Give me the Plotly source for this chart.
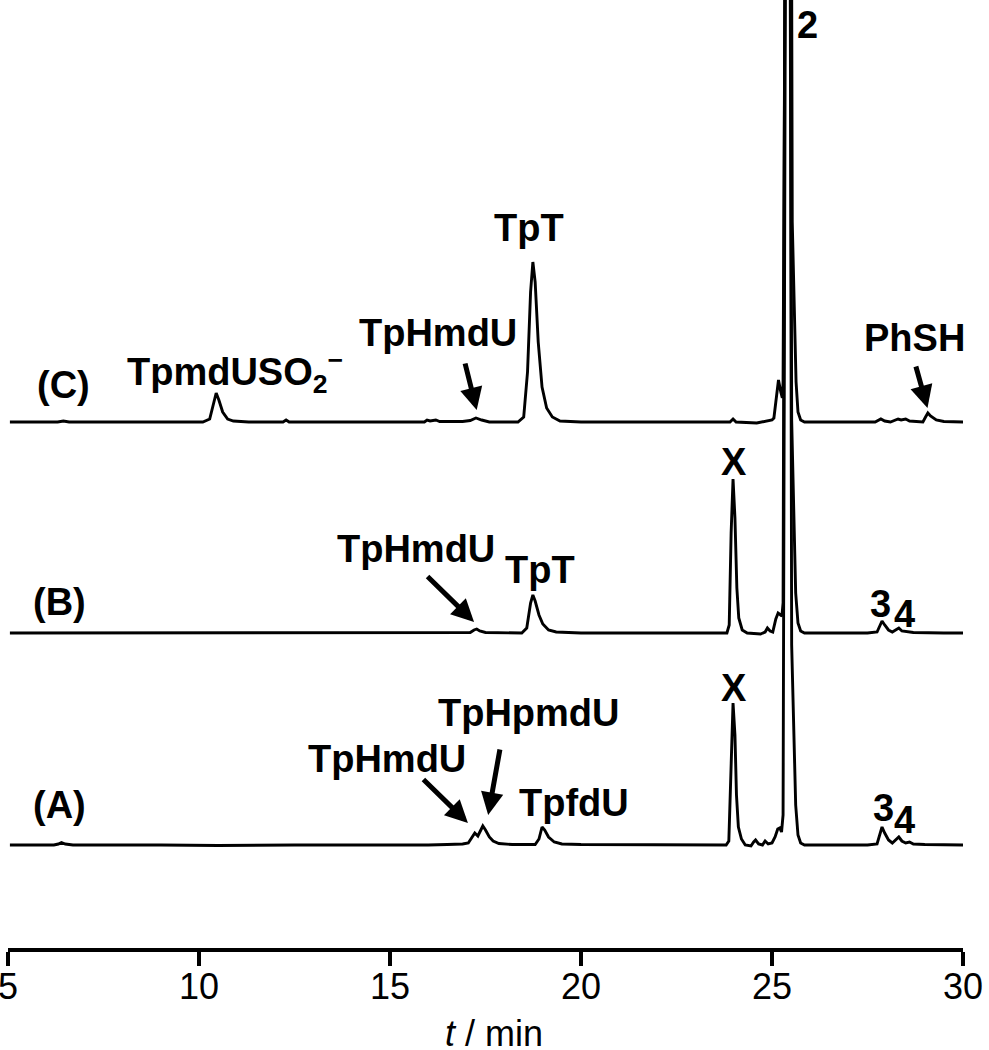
import plotly.graph_objects as go

# Retention time (min) and detector signal (a.u.)
t_A = [5.05, 6.2, 6.32, 6.4, 6.5, 6.7, 9.0, 10.5, 12.5, 14.8, 15.2, 16.0, 16.5, 16.9, 17.05, 17.15, 17.22,
       17.30, 17.38, 17.43, 17.5, 17.6, 17.7, 17.85, 18.2, 18.8, 18.9, 18.98, 19.05, 19.15, 19.3, 19.5, 20.0,
       22.0, 23.8, 23.87, 23.93, 23.98, 24.03, 24.07, 24.12, 24.2, 24.3, 24.45, 24.52, 24.57, 24.65, 24.75,
       24.82, 24.9, 25.0, 25.08, 25.15, 25.2, 25.25, 25.29, 25.36, 25.42, 25.47, 25.515, 25.62, 25.68, 25.75,
       25.85, 26.5, 27.5, 27.75, 27.82, 27.88, 27.95, 28.05, 28.15, 28.25, 28.32, 28.4, 28.5, 28.6, 28.7, 29.0,
       29.5, 30.05]
s_A = [0, 0, 1, 2.5, 1, 0, 0, -0.5, 0, 0, -0.5, 0, 0.5, 1, 2, 8, 12,
       9, 15, 19, 15, 8, 4, 1.5, 0.5, 0.5, 6, 18, 15, 8, 3, 1, 0.5,
       0, 0, 4, 80, 142, 110, 50, 18, 6, 0, -1, 3, 5, 1, 0,
       4, 1, 2, 8, 16, 17, 13, 30, 1000, 1100, 1000, 200, 40, 10, 2,
       0, 0, 0, 1, 10, 18, 12, 5, 2, 5, 8, 4, 2, 3, 1, 0.5,
       0, 0]

t_B = [5.05, 8.0, 10.0, 12.8, 15.0, 16.5, 17.1, 17.2, 17.27, 17.35, 17.5, 18.45, 18.58, 18.68, 18.74, 18.80,
       18.9, 19.0, 19.15, 19.35, 20.0, 23.5, 23.82, 23.88, 23.93, 23.98, 24.03, 24.08, 24.13, 24.22, 24.35,
       24.7, 24.82, 24.88, 24.95, 25.02, 25.1, 25.16, 25.22, 25.26, 25.29, 25.36, 25.42, 25.47, 25.515, 25.62,
       25.68, 25.75, 25.85, 27.5, 27.75, 27.82, 27.88, 27.95, 28.05, 28.15, 28.25, 28.32, 28.4, 28.55, 28.7,
       29.5, 30.05]
s_B = [0, 0, 0.5, 0, 0.5, 0, 0.5, 3, 4, 2, 0.5, 0, 5, 30, 38, 32,
       18, 9, 3, 1, 0, 0, 0, 8, 100, 154, 115, 45, 15, 3, 0,
       -1, 1, 5, 2, 1, 14, 20, 18, 17, 30, 1000, 1100, 1000, 213, 40,
       10, 2, 0, 0, 1, 8, 12, 8, 3, 1, 3, 5, 2, 1, 0.5,
       0, 0]

t_C = [5.05, 6.3, 6.45, 6.6, 9.3, 10.1, 10.28, 10.38, 10.45, 10.52, 10.62, 10.75, 10.9, 11.3, 12.2, 12.28,
       12.36, 15.9, 15.97, 16.05, 16.2, 16.3, 16.9, 17.1, 17.25, 17.4, 17.6, 18.35, 18.5, 18.6, 18.68, 18.74,
       18.80, 18.88, 18.98, 19.1, 19.25, 19.45, 20.0, 23.9, 23.98, 24.06, 24.6, 25.0, 25.05, 25.1, 25.17,
       25.23, 25.27, 25.29, 25.36, 25.42, 25.48, 25.53, 25.63, 25.68, 25.75, 25.85, 27.7, 27.85, 27.95, 28.1,
       28.3, 28.38, 28.5, 28.6, 28.95, 29.02, 29.08, 29.15, 29.3, 29.5, 30.05]
s_C = [0, 0, 1, 0, 0, 0, 3, 18, 29, 22, 10, 3, 1, 0, 0, 2,
       0, 0, 2, 1, 2, 0.5, 0.5, 1.5, 4, 2, 0, 0, 5, 50, 130, 160,
       140, 80, 35, 14, 5, 1, 0, 0, 3, 0, -1, 2, 4, 20, 42,
       30, 24, 40, 1000, 1100, 1000, 200, 40, 10, 2, 0, 0, 3, 1, 0,
       3, 2, 3, 1, 0, 5, 9, 6, 2, 0.5, 0]

trace_names = ["(A)", "(B)", "(C)"]
offsets = [103, 315, 526]

x_ticks = [5, 10, 15, 20, 25, 30]
x_title = "<i>t</i> / min"

FONT = "Liberation Sans, Arial, sans-serif"

fig = go.Figure()
for tt, ss, off, nm in zip([t_A, t_B, t_C], [s_A, s_B, s_C], offsets, trace_names):
    fig.add_trace(go.Scatter(x=tt, y=[v + off for v in ss], mode="lines",
                             line=dict(color="black", width=2.9), name=nm,
                             showlegend=False, hoverinfo="skip"))

# text labels: (text, t, y)
labels = [
    ("(C)", 6.44, 563), ("TpmdUSO<sub>2</sub><sup>−</sup>", 10.94, 576), ("TpHmdU", 16.26, 615),
    ("TpT", 18.64, 720), ("2", 25.94, 923), ("PhSH", 28.74, 610),
    ("(B)", 6.34, 346), ("TpHmdU", 15.68, 399), ("TpT", 18.93, 378), ("X", 24.0, 486),
    ("3", 27.85, 344), ("4", 28.48, 334),
    ("(A)", 6.34, 143), ("TpHmdU", 14.92, 189), ("TpHpmdU", 18.64, 235), ("TpfdU", 19.82, 145),
    ("X", 24.0, 260), ("3", 27.91, 140), ("4", 28.48, 128),
]
for txt, x, y in labels:
    fig.add_annotation(x=x, y=y, xref="x", yref="y", text="<b>" + txt + "</b>", showarrow=False,
                       font=dict(family=FONT, size=38, color="black"))

# arrows: head (t, y), tail offset in pixels
arrows = [
    (17.27, 538, -12, -48),   # C TpHmdU
    (29.07, 540, -12, -43),   # C PhSH
    (17.2, 326, -48, -47),    # B TpHmdU
    (17.04, 125, -46, -45),   # A TpHmdU
    (17.57, 133, 12, -67),    # A TpHpmdU
]
for hx, hy, ax, ay in arrows:
    fig.add_annotation(x=hx, y=hy, xref="x", yref="y", text="", showarrow=True,
                       ax=ax, ay=ay, arrowhead=2, arrowsize=0.9, arrowwidth=5,
                       arrowcolor="black")

# x-axis title placed below the tick labels
fig.add_annotation(x=17.72, y=-0.0905, xref="x", yref="paper", text=x_title, showarrow=False,
                   yanchor="middle", font=dict(family=FONT, size=36, color="black"))

fig.update_layout(
    width=989, height=1050,
    margin=dict(l=8, r=26, t=0, b=102, autoexpand=False),
    plot_bgcolor="white", paper_bgcolor="white",
    font=dict(family=FONT, color="black"),
    xaxis=dict(range=[5, 30], tickvals=x_ticks, ticks="outside", ticklen=14, tickwidth=4,
               tickcolor="black", showline=True, linecolor="black", linewidth=3.5,
               showgrid=False, zeroline=False, ticklabeloverflow="allow",
               ticklabelstandoff=-10,
               tickfont=dict(family=FONT, size=36, color="black")),
    yaxis=dict(range=[0, 948], visible=False, showgrid=False, zeroline=False),
)

fig.write_html("out.html", config={"displayModeBar": False},
               post_script="document.body.style.margin='0';document.body.style.overflow='hidden';")
